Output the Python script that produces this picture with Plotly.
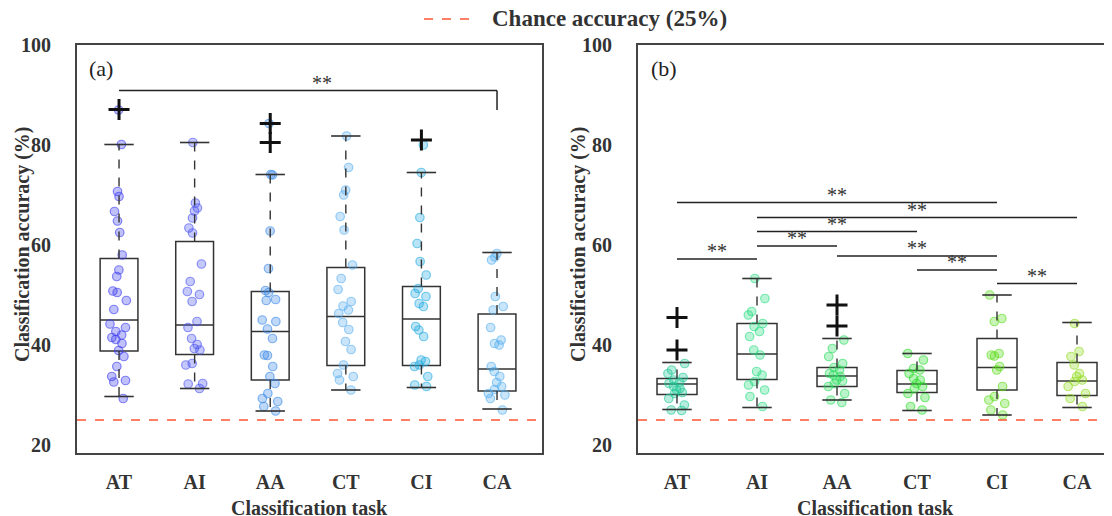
import plotly.graph_objects as go

# ---------------- data ----------------
cats = ["AT", "AI", "AA", "CT", "CI", "CA"]

# panel (a) box statistics
q1_a = [38.8, 38.1, 33.0, 35.9, 35.9, 30.8]
med_a = [45.0, 44.0, 42.7, 45.7, 45.2, 35.2]
q3_a = [57.3, 60.7, 50.7, 55.5, 51.7, 46.2]
lo_a = [29.7, 31.3, 26.8, 31.0, 31.5, 27.2]
hi_a = [80.1, 80.5, 74.1, 81.8, 74.5, 58.5]
out_a = {"AT": [87.1], "AA": [84.3, 80.5], "CI": [81.0]}

# panel (a) individual points
pts_a = {
    "AT": [87.0, 80.1, 70.7, 69.7, 66.7, 64.8, 62.5, 58.0, 55.0, 53.7, 50.8, 50.5, 48.9,
           47.1, 44.2, 43.5, 42.7, 42.0, 41.5, 41.1, 40.3, 38.9, 37.7, 35.7, 33.7, 32.9, 32.6, 29.3],
    "AI": [80.5, 68.4, 67.4, 66.8, 65.4, 63.4, 62.4, 56.2, 52.7, 50.7, 50.1, 48.7, 44.7,
           43.5, 41.3, 40.1, 39.3, 39.0, 36.3, 36.0, 32.3, 32.2, 31.3],
    "AA": [84.3, 74.1, 74.0, 62.8, 55.3, 50.9, 50.5, 49.1, 48.9, 45.0, 44.7, 43.2, 41.3,
           38.0, 37.9, 35.7, 33.7, 32.3, 30.3, 29.3, 28.7, 27.7, 26.8],
    "CT": [81.8, 75.5, 71.0, 70.0, 65.7, 63.0, 56.0, 53.3, 51.1, 48.7, 47.8, 47.0, 46.3,
           44.5, 43.1, 40.7, 39.1, 36.0, 34.3, 33.7, 33.0, 31.0],
    "CI": [80.0, 74.5, 65.5, 60.3, 56.7, 54.0, 51.3, 50.3, 49.7, 48.3, 47.7, 43.7, 43.0,
           41.7, 37.0, 36.7, 36.0, 35.7, 33.7, 32.0, 31.7],
    "CA": [58.3, 57.6, 57.0, 49.7, 47.7, 47.0, 43.5, 41.0, 40.3, 40.0, 35.7, 34.7, 33.7,
           32.5, 31.7, 31.1, 30.3, 30.0, 29.3, 27.0],
}

# panel (b) box statistics
q1_b = [30.1, 33.1, 31.7, 30.5, 31.0, 29.9]
med_b = [32.2, 38.2, 33.8, 32.2, 35.5, 32.8]
q3_b = [33.3, 44.3, 35.5, 34.9, 41.3, 36.5]
lo_b = [27.1, 27.5, 29.0, 26.9, 26.0, 27.5]
hi_b = [36.5, 53.3, 41.3, 38.3, 50.0, 44.5]
out_b = {"AT": [45.5, 39.0], "AA": [48.0, 43.8]}

pts_b = {
    "AT": [36.3, 35.0, 34.3, 33.5, 33.0, 32.5, 32.3, 31.7, 31.3, 31.0, 30.5, 30.3, 29.3, 28.0, 27.0, 26.9],
    "AI": [53.3, 49.3, 46.7, 46.0, 44.3, 43.7, 42.7, 41.7, 39.0, 38.0, 34.7, 34.0, 32.7, 32.0, 31.0, 29.7, 27.7],
    "AA": [41.0, 39.3, 37.7, 36.3, 35.5, 35.0, 34.3, 34.0, 33.7, 33.0, 32.8, 32.3, 31.7, 30.3, 29.0, 28.5],
    "CT": [38.3, 37.0, 35.3, 35.0, 34.3, 33.3, 33.0, 32.3, 31.7, 31.3, 30.3, 29.5, 27.7, 27.0],
    "CI": [50.0, 45.3, 44.7, 38.3, 38.0, 37.8, 35.7, 35.0, 31.7, 29.7, 29.0, 28.3, 27.0, 26.0],
    "CA": [44.3, 38.7, 37.7, 36.0, 34.3, 33.7, 33.0, 32.7, 31.7, 30.3, 29.3, 27.7],
}

# significance brackets (start, end, level[, drop end])
sig_a = [("AT", "CA", 90.9, 87.0)]
sig_b = [("AT", "CI", 68.5), ("AI", "CA", 65.5), ("AI", "CT", 62.7), ("AI", "AA", 59.8),
         ("AT", "AI", 57.2), ("AA", "CI", 57.8), ("CT", "CI", 55.0), ("CI", "CA", 52.3)]

chance = 25
yticks = [20, 40, 60, 80, 100]

# ---------------- styles ----------------
col_a = ["60,60,240", "75,85,240", "55,135,230", "90,175,240", "35,170,225", "85,175,240"]
col_b = ["30,200,150", "40,220,130", "45,220,95", "45,220,45", "90,220,25", "145,220,35"]
FONT = "Liberation Serif"
EDGE = "#333333"
OFF = 8               # page body margin of the html page
W, H = 1104, 508


def px(x):
    return (x - OFF) / W


def py(y):
    return 1 - (y - OFF) / H


fig = go.Figure()


def add_panel(xa, ya, q1, med, q3, lo, hi, outs, pts, cols):
    fig.add_trace(go.Box(
        x=cats, q1=q1, median=med, q3=q3, lowerfence=q1, upperfence=q3,
        boxpoints=False, width=0.5, whiskerwidth=0, fillcolor="rgba(0,0,0,0)",
        line=dict(color=EDGE, width=1.5), xaxis=xa, yaxis=ya, showlegend=False,
        hoverinfo="skip"))
    wx, wy = [], []
    for c, a, b, l, h in zip(cats, q1, q3, lo, hi):
        wx += [c, c, None, c, c, None]
        wy += [b, h, None, a, l, None]
    fig.add_trace(go.Scatter(x=wx, y=wy, mode="lines",
                             line=dict(color=EDGE, width=1.4, dash="dash"),
                             xaxis=xa, yaxis=ya, showlegend=False, hoverinfo="skip"))
    fig.add_trace(go.Scatter(x=cats + cats, y=hi + lo, mode="markers",
                             marker=dict(symbol="line-ew", size=21,
                                         line=dict(color=EDGE, width=1.6)),
                             xaxis=xa, yaxis=ya, showlegend=False, hoverinfo="skip"))
    for c, col in zip(cats, cols):
        vals = pts[c]
        fig.add_trace(go.Box(
            x=[c] * len(vals), y=vals, boxpoints="all", jitter=0.55, pointpos=0,
            width=0.5, fillcolor="rgba(0,0,0,0)", line=dict(width=0, color="rgba(0,0,0,0)"),
            marker=dict(size=8.5, color=f"rgba({col},0.32)",
                        line=dict(color=f"rgba({col},0.6)", width=1.2)),
            xaxis=xa, yaxis=ya, showlegend=False, hoverinfo="skip"))
    ox, oy = [], []
    for c, vs in outs.items():
        ox += [c] * len(vs)
        oy += vs
    fig.add_trace(go.Scatter(x=ox, y=oy, mode="markers",
                             marker=dict(symbol="cross-thin", size=15,
                                         line=dict(color="#111111", width=3)),
                             xaxis=xa, yaxis=ya, showlegend=False, hoverinfo="skip"))


add_panel("x", "y", q1_a, med_a, q3_a, lo_a, hi_a, out_a, pts_a, col_a)
add_panel("x2", "y2", q1_b, med_b, q3_b, lo_b, hi_b, out_b, pts_b, col_b)

shapes = []
annots = []
star_font = dict(family=FONT, size=20, color="#333333")

for s, e, yv, drop in sig_a:
    shapes.append(dict(type="line", xref="x", yref="y", x0=s, x1=e, y0=yv, y1=yv,
                       line=dict(color="#222222", width=1.5)))
    shapes.append(dict(type="line", xref="x", yref="y", x0=e, x1=e, y0=yv, y1=drop,
                       line=dict(color="#222222", width=1.5)))
    mid = (cats.index(s) + cats.index(e)) / 2
    annots.append(dict(text="**", xref="x", yref="y", x=mid, y=yv, xshift=14, yshift=8,
                       showarrow=False, font=star_font, xanchor="center", yanchor="middle"))

for s, e, yv in sig_b:
    shapes.append(dict(type="line", xref="x2", yref="y2", x0=s, x1=e, y0=yv, y1=yv,
                       line=dict(color="#222222", width=1.5)))
    mid = (cats.index(s) + cats.index(e)) / 2
    annots.append(dict(text="**", xref="x2", yref="y2", x=mid, y=yv, yshift=8,
                       showarrow=False, font=star_font, xanchor="center", yanchor="middle"))

for xr, yr in (("x domain", "y"), ("x2 domain", "y2")):
    shapes.append(dict(type="line", xref=xr, yref=yr, x0=0, x1=1, y0=chance, y1=chance,
                       line=dict(color="#ff5533", width=1.5, dash="dash")))

# legend (manual)
shapes.append(dict(type="line", xref="paper", yref="paper", x0=px(424), x1=px(470),
                   y0=py(19), y1=py(19), line=dict(color="#ff5533", width=1.5, dash="dash")))
annots.append(dict(text="Chance accuracy (25%)", xref="paper", yref="paper", x=px(490),
                   y=py(19), xanchor="left", yanchor="middle", showarrow=False,
                   font=dict(family=FONT, size=23, color="#333333", weight="bold")))

# panel labels
for lab, xp in (("(a)", 101), ("(b)", 664)):
    annots.append(dict(text=lab, xref="paper", yref="paper", x=px(xp), y=py(68),
                       xanchor="center", yanchor="middle",
                       showarrow=False, font=dict(family=FONT, size=22, color="#222222")))

# axis titles
title_font = dict(family=FONT, size=20, color="#333333", weight="bold")
for xc in ((77 + 542) / 2, (638 + 1112) / 2):
    annots.append(dict(text="Classification task", xref="paper", yref="paper", x=px(xc),
                       y=py(508), showarrow=False, font=title_font,
                       xanchor="center", yanchor="middle"))
for xc in (22, 578):
    annots.append(dict(text="Classification accuracy (%)", xref="paper", yref="paper",
                       x=px(xc), y=py(244), showarrow=False, font=title_font,
                       textangle=-90, xanchor="center", yanchor="middle"))

tick_font = dict(family=FONT, size=20, color="#333333", weight="bold")
ax_common = dict(showgrid=False, zeroline=False, showline=True, linecolor="#444444",
                 linewidth=2, ticks="", tickfont=tick_font, automargin=False)

fig.update_layout(
    width=W, height=H, autosize=False, margin=dict(l=0, r=0, t=0, b=0, pad=0),
    paper_bgcolor="white", plot_bgcolor="white", boxmode="overlay", showlegend=False,
    shapes=shapes, annotations=annots,
    xaxis=dict(domain=[px(77), px(542)], type="category", categoryorder="array",
               categoryarray=cats, range=[-0.556, 5.595], mirror=True, anchor="y",
               ticklabelstandoff=10, **ax_common),
    yaxis=dict(domain=[py(453), py(45)], range=[18.4, 100], tickvals=yticks,
               mirror=True, anchor="x", ticklabelstandoff=20, **ax_common),
    xaxis2=dict(domain=[px(638), 1.0], type="category", categoryorder="array",
                categoryarray=cats, range=[-0.4875, 5.4375], mirror=True, anchor="y2",
                ticklabelstandoff=10, **ax_common),
    yaxis2=dict(domain=[py(453), py(45)], range=[18.4, 100], tickvals=yticks,
                mirror=False, anchor="x2", ticklabelstandoff=20, **ax_common),
)

fig.write_html("out.html")
